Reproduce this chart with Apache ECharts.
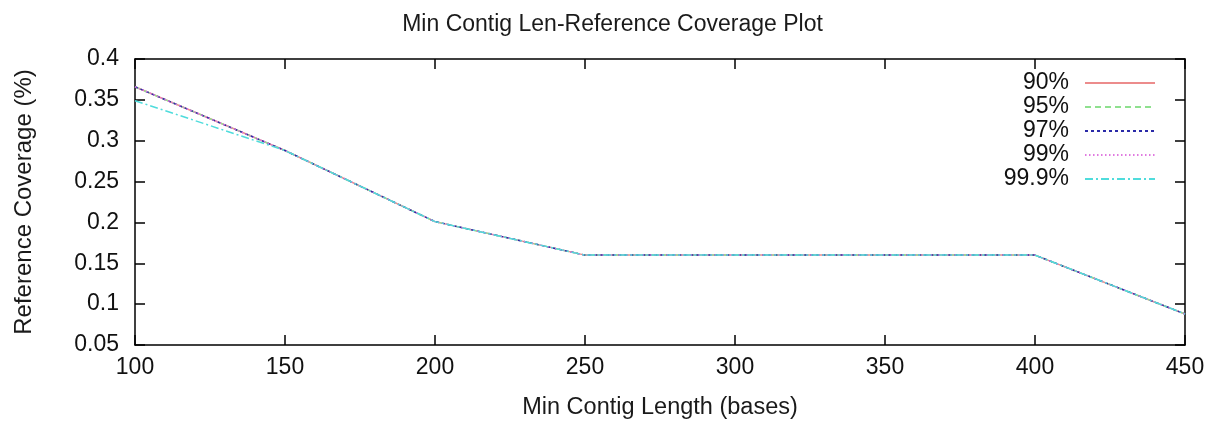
<!DOCTYPE html>
<html><head><meta charset="utf-8">
<script src="https://cdn.jsdelivr.net/npm/echarts@6/dist/echarts.min.js"></script>
<style>html,body{margin:0;padding:0;background:#fff}#c{width:1225px;height:423px}</style>
</head><body><div id="c"></div>
<script>
const xValues = [100, 150, 200, 250, 300, 350, 400, 450];
const s90  = [0.366, 0.288, 0.201, 0.160, 0.160, 0.160, 0.160, 0.088];
const s95  = [0.366, 0.288, 0.201, 0.160, 0.160, 0.160, 0.160, 0.088];
const s97  = [0.366, 0.288, 0.201, 0.160, 0.160, 0.160, 0.160, 0.088];
const s99  = [0.366, 0.288, 0.201, 0.160, 0.160, 0.160, 0.160, 0.088];
const s999 = [0.349, 0.288, 0.201, 0.160, 0.160, 0.160, 0.160, 0.088];
const seriesNames = ['90%', '95%', '97%', '99%', '99.9%'];
const seriesData = [s90, s95, s97, s99, s999];
const colors = ['#ec8c8c', '#8fe08f', '#2a2aa8', '#e07ae0', '#4fdcdc'];
const dashes = ['solid', [6, 4], [3, 3], [1.5, 2.5], [8, 3, 2, 3]];

const font = 'Liberation Sans, Arial, sans-serif';
const chart = echarts.init(document.getElementById('c'));
const axisLine = {show: true, lineStyle: {color: '#000', width: 1.5}};
const tick = {show: true, inside: true, length: 10, lineStyle: {color: '#000', width: 1.5}};
chart.setOption({
  animation: false,
  backgroundColor: '#fff',
  title: {text: 'Min Contig Len-Reference Coverage Plot', left: 'center', top: 8,
    textStyle: {fontFamily: font, fontSize: 23, fontWeight: 'normal', color: '#1a1a1a'}},
  grid: {left: 135, right: 40, top: 59, bottom: 78, outerBoundsMode: 'none', containLabel: false},
  legend: {
    orient: 'vertical', right: 69, top: 71, align: 'right', padding: 0,
    itemWidth: 70, itemHeight: 10, itemGap: 0,
    itemStyle: {opacity: 0},
    textStyle: {fontFamily: font, fontSize: 23, lineHeight: 24, color: '#111', padding: [0, 11, 0, 0]},
    data: seriesNames
  },
  xAxis: [{
    type: 'value', min: 100, max: 450, interval: 50,
    name: 'Min Contig Length (bases)', nameLocation: 'middle', nameGap: 51,
    nameTextStyle: {fontFamily: font, fontSize: 23.5, color: '#1a1a1a'},
    axisLine, axisTick: tick, splitLine: {show: false},
    axisLabel: {fontFamily: font, fontSize: 23, color: '#111', margin: 11}
  }, {
    type: 'value', min: 100, max: 450, interval: 50, position: 'top',
    axisLine, axisTick: tick, splitLine: {show: false}, axisLabel: {show: false}
  }],
  yAxis: [{
    type: 'value', min: 0.05, max: 0.4, interval: 0.05,
    name: 'Reference Coverage (%)', nameLocation: 'middle', nameGap: 99,
    nameTextStyle: {fontFamily: font, fontSize: 24, color: '#1a1a1a'},
    axisLine, axisTick: tick, splitLine: {show: false},
    axisLabel: {fontFamily: font, fontSize: 23, color: '#111', margin: 16,
      formatter: v => String(parseFloat(v.toFixed(2)))}
  }, {
    type: 'value', min: 0.05, max: 0.4, interval: 0.05, position: 'right',
    axisLine, axisTick: tick, splitLine: {show: false}, axisLabel: {show: false}
  }],
  series: seriesNames.map((n, i) => ({
    name: n, type: 'line', symbol: 'none',
    data: xValues.map((x, j) => [x, seriesData[i][j]]),
    lineStyle: {color: colors[i], width: 1.5, type: dashes[i]},
    itemStyle: {color: colors[i]}
  }))
});
</script></body></html>
